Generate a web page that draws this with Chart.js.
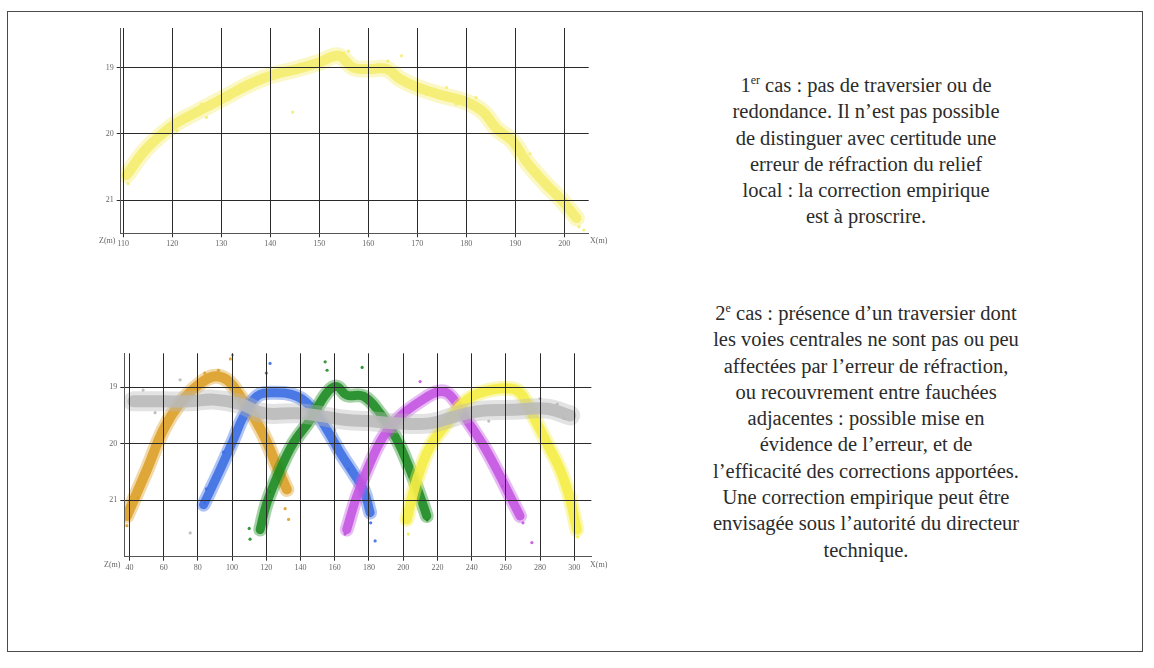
<!DOCTYPE html>
<html lang="fr">
<head>
<meta charset="UTF-8">
<title>Erreur de réfraction - cas</title>
<script src="https://cdn.jsdelivr.net/npm/chart.js"></script>
<style>
    body {
        margin: 0;
        width: 1154px;
        height: 668px;
        position: relative;
        overflow: hidden;
        background: #fff;
        font-family: 'Liberation Serif', 'Times New Roman', serif;
    }
    .frame {
        position: absolute;
        left: 7px;
        top: 11px;
        width: 1136px;
        height: 641px;
        border: 1.5px solid #4a4a4a;
        box-sizing: border-box;
    }
    .chart-box {
        position: absolute;
        left: 60px;
        width: 560px;
        height: 250px;
    }
    .axis-name {
        position: absolute;
        font-size: 8px;
        color: #666;
    }
    .note {
        position: absolute;
        left: 646px;
        width: 440px;
        text-align: center;
        font-family: 'Liberation Serif', 'Times New Roman', serif;
        font-size: 20.5px;
        line-height: 26.3px;
        color: #2b2b2b;
        white-space: nowrap;
    }
    .note sup {
        font-size: 12px;
        line-height: 0;
        vertical-align: 8px;
    }
</style>
</head>
<body>
<div class="frame"></div>

<div class="chart-box" style="top:18px"><canvas id="chartTop"></canvas></div>
<div class="axis-name" style="left:99px; top:236px">Z(m)</div>
<div class="axis-name" style="left:590px; top:236px">X(m)</div>

<div class="chart-box" style="top:343px"><canvas id="chartBottom"></canvas></div>
<div class="axis-name" style="left:104px; top:560px">Z(m)</div>
<div class="axis-name" style="left:590px; top:560px">X(m)</div>

<div class="note" style="top:72px">
1<sup>er</sup> cas : pas de traversier ou de<br>
redondance. Il n’est pas possible<br>
de distinguer avec certitude une<br>
erreur de réfraction du relief<br>
local : la correction empirique<br>
est à proscrire.
</div>

<div class="note" style="top:300px">
2<sup>e</sup> cas : présence d’un traversier dont<br>
les voies centrales ne sont pas ou peu<br>
affectées par l’erreur de réfraction,<br>
ou recouvrement entre fauchées<br>
adjacentes : possible mise en<br>
évidence de l’erreur, et de<br>
l’efficacité des corrections apportées.<br>
Une correction empirique peut être<br>
envisagée sous l’autorité du directeur<br>
technique.
</div>

<script>
    // ---- 1er cas : une seule fauchée ----
    const topXTicks = [110, 120, 130, 140, 150, 160, 170, 180, 190, 200];
    const topYTicks = [19, 20, 21];

    const topBandX = [110.7, 114.8, 120.2, 125, 130.2, 135.2, 140.1, 145.4, 150, 153.9, 157, 160.2, 163.8, 166.5, 170.2, 175.3, 180.1, 183.5, 186.2, 189.6, 192.3, 196.4, 199.1, 202.5];
    const topBandY = [20.62, 20.22, 19.87, 19.67, 19.47, 19.27, 19.12, 19.02, 18.92, 18.82, 19.0, 19.02, 19.02, 19.17, 19.3, 19.42, 19.52, 19.67, 19.92, 20.12, 20.42, 20.77, 20.97, 21.27];
    const topDotsX = [111, 112, 113.5, 116, 118, 121, 123, 127, 132, 137, 142, 144.6, 148, 152, 155, 158, 162, 166.8, 172, 178, 184, 188, 191, 194, 197, 200, 203, 204, 126, 134, 146, 156, 164, 176, 182, 193];
    const topDotsY = [20.75, 20.55, 20.4, 20.15, 20.05, 19.95, 19.8, 19.75, 19.42, 19.2, 19.1, 19.67, 18.98, 18.88, 18.78, 19.05, 18.95, 18.82, 19.4, 19.55, 19.75, 20.05, 20.3, 20.6, 20.85, 21.05, 21.4, 21.45, 19.55, 19.35, 18.95, 18.75, 18.9, 19.3, 19.45, 20.3];

    // ---- 2e cas : fauchées adjacentes ----
    const botXTicks = [40, 60, 80, 100, 120, 140, 160, 180, 200, 220, 240, 260, 280, 300];
    const botYTicks = [19, 20, 21];

    const grayX = [42.3, 60, 75.5, 89.1, 105, 118.3, 137.8, 150, 167, 180, 196.3, 215.7, 230, 245, 264.4, 284, 297.6];
    const grayY = [19.25, 19.25, 19.25, 19.22, 19.3, 19.46, 19.46, 19.5, 19.58, 19.6, 19.64, 19.64, 19.52, 19.42, 19.4, 19.38, 19.5];
    const orangeX = [38.5, 50.2, 59.9, 69.6, 80.3, 89.1, 96.9, 104.7, 112.5, 119.7, 126.1, 132];
    const orangeY = [21.28, 20.46, 19.75, 19.28, 18.96, 18.81, 18.87, 19.16, 19.52, 19.93, 20.4, 20.81];
    const blueX = [83.3, 93, 100.8, 106.6, 114.5, 124.2, 137.8, 147.5, 155.4, 163.2, 170.9, 176.8, 180.7];
    const blueY = [21.08, 20.46, 19.93, 19.52, 19.16, 19.1, 19.16, 19.4, 19.75, 20.16, 20.52, 20.81, 21.22];
    const greenX = [116.4, 120.3, 128.1, 135.8, 145.6, 155.4, 161.2, 167, 176.8, 186.5, 196.3, 204, 209.9, 213.8];
    const greenY = [21.52, 21.05, 20.46, 19.99, 19.58, 19.1, 18.99, 19.14, 19.16, 19.46, 19.93, 20.46, 20.93, 21.28];
    const purpleX = [167, 172.9, 180.7, 188.5, 198.2, 209.9, 220.6, 227.4, 237.2, 246.9, 254.7, 262.5, 268.3];
    const purpleY = [21.52, 20.93, 20.34, 19.87, 19.52, 19.25, 19.08, 19.14, 19.58, 20.03, 20.46, 20.93, 21.28];
    const yellowX = [202.1, 208, 215.7, 225.5, 235.2, 245, 260.6, 268.3, 276.1, 284, 291.7, 297.6, 301.5];
    const yellowY = [21.34, 20.64, 20.05, 19.64, 19.28, 19.1, 19.02, 19.1, 19.52, 19.99, 20.46, 20.99, 21.52];

    // points isolés
    const grayDotsX = [69.6, 75.5, 48, 290, 294, 55, 100, 160, 250, 280];
    const grayDotsY = [18.87, 21.58, 19.05, 19.3, 19.55, 19.45, 19.05, 19.75, 19.6, 19.2];
    const orangeDotsX = [100.2, 99, 133, 131, 38.5, 39.5, 92, 84, 45, 125];
    const orangeDotsY = [18.43, 18.5, 21.34, 21.15, 21.45, 21.1, 18.7, 18.75, 20.95, 20.55];
    const blueDotsX = [122.2, 120, 183.6, 84, 85, 181, 95, 168];
    const blueDotsY = [18.58, 18.75, 21.72, 21.05, 20.8, 21.4, 20.15, 20.45];
    const greenDotsX = [154.4, 155.5, 176, 110.5, 110, 214, 122, 200];
    const greenDotsY = [18.55, 18.7, 18.65, 21.69, 21.5, 21.35, 20.85, 20.05];
    const purpleDotsX = [209.9, 275.2, 166, 270, 175, 258];
    const purpleDotsY = [18.9, 21.75, 21.6, 21.4, 20.75, 20.75];
    const yellowDotsX = [302, 203];
    const yellowDotsY = [21.65, 21.6];

    const pts = (xs, ys) => xs.map((x, i) => ({ x: x, y: ys[i] }));

    // un nuage = halo pâle large + coeur plus dense
    function band(xs, ys, rgb, width, alpha) {
        return {
            data: pts(xs, ys),
            showLine: true,
            borderColor: `rgba(${rgb}, ${alpha})`,
            borderWidth: width,
            borderCapStyle: 'round',
            borderJoinStyle: 'round',
            tension: 0.4,
            pointRadius: 0,
            fill: false
        };
    }

    function cloud(xs, ys, rgb, outer, inner) {
        return [band(xs, ys, rgb, outer, 0.4), band(xs, ys, rgb, inner, 0.88)];
    }

    function dots(xs, ys, rgb) {
        return {
            data: pts(xs, ys),
            pointRadius: 1.6,
            pointBackgroundColor: `rgba(${rgb}, 0.9)`,
            pointBorderWidth: 0
        };
    }

    const tickFont = { family: 'Liberation Serif', size: 8 };

    function axes(xMin, xMax, xTicks, yMin, yMax, yTicks, yWidth, xHeight) {
        return {
            x: {
                type: 'linear',
                min: xMin,
                max: xMax,
                afterBuildTicks: s => { s.ticks = xTicks.map(v => ({ value: v })); },
                afterFit: s => { s.height = xHeight; },
                grid: { color: '#2a2a2a', lineWidth: 1, z: 1, tickLength: 4 },
                border: { color: '#555', width: 1, z: 1 },
                ticks: { font: tickFont, color: '#666', padding: 2, maxRotation: 0, autoSkip: false }
            },
            y: {
                type: 'linear',
                reverse: true,
                min: yMin,
                max: yMax,
                afterBuildTicks: s => { s.ticks = yTicks.map(v => ({ value: v })); },
                afterFit: s => { s.width = yWidth; },
                grid: { color: '#2a2a2a', lineWidth: 1, z: 1, tickLength: 4 },
                border: { color: '#555', width: 1, z: 1 },
                ticks: { font: tickFont, color: '#666', padding: 3 }
            }
        };
    }

    const commonPlugins = { legend: { display: false }, tooltip: { enabled: false } };

    const YELLOW_PALE = '244, 238, 110';
    const GRAY = '185, 185, 185';
    const YELLOW = '246, 238, 70';
    const PURPLE = '196, 84, 224';
    const GREEN = '30, 140, 34';
    const BLUE = '60, 110, 228';
    const ORANGE = '220, 160, 40';

    new Chart(document.getElementById('chartTop'), {
        type: 'scatter',
        data: {
            datasets: [
                ...cloud(topBandX, topBandY, YELLOW_PALE, 17, 10),
                dots(topDotsX, topDotsY, YELLOW_PALE)
            ]
        },
        options: {
            responsive: true,
            maintainAspectRatio: false,
            animation: false,
            layout: { padding: { top: 10, right: 31.3, left: 0, bottom: 0 } },
            plugins: commonPlugins,
            scales: axes(109.5, 205, topXTicks, 18.4, 21.5, topYTicks, 60.7, 34.7)
        }
    });

    new Chart(document.getElementById('chartBottom'), {
        type: 'scatter',
        data: {
            datasets: [
                ...cloud(grayX, grayY, GRAY, 20, 12),
                dots(grayDotsX, grayDotsY, GRAY),
                ...cloud(yellowX, yellowY, YELLOW, 15, 10),
                dots(yellowDotsX, yellowDotsY, YELLOW),
                ...cloud(purpleX, purpleY, PURPLE, 14, 9),
                dots(purpleDotsX, purpleDotsY, PURPLE),
                ...cloud(greenX, greenY, GREEN, 14, 9),
                dots(greenDotsX, greenDotsY, GREEN),
                ...cloud(blueX, blueY, BLUE, 14, 9),
                dots(blueDotsX, blueDotsY, BLUE),
                ...cloud(orangeX, orangeY, ORANGE, 15, 10),
                dots(orangeDotsX, orangeDotsY, ORANGE)
            ]
        },
        options: {
            responsive: true,
            maintainAspectRatio: false,
            animation: false,
            layout: { padding: { top: 10.3, right: 28.6, left: 0, bottom: 0 } },
            plugins: commonPlugins,
            scales: axes(37, 310, botXTicks, 18.4, 22.0, botYTicks, 64.3, 36.3)
        }
    });
</script>
</body>
</html>
